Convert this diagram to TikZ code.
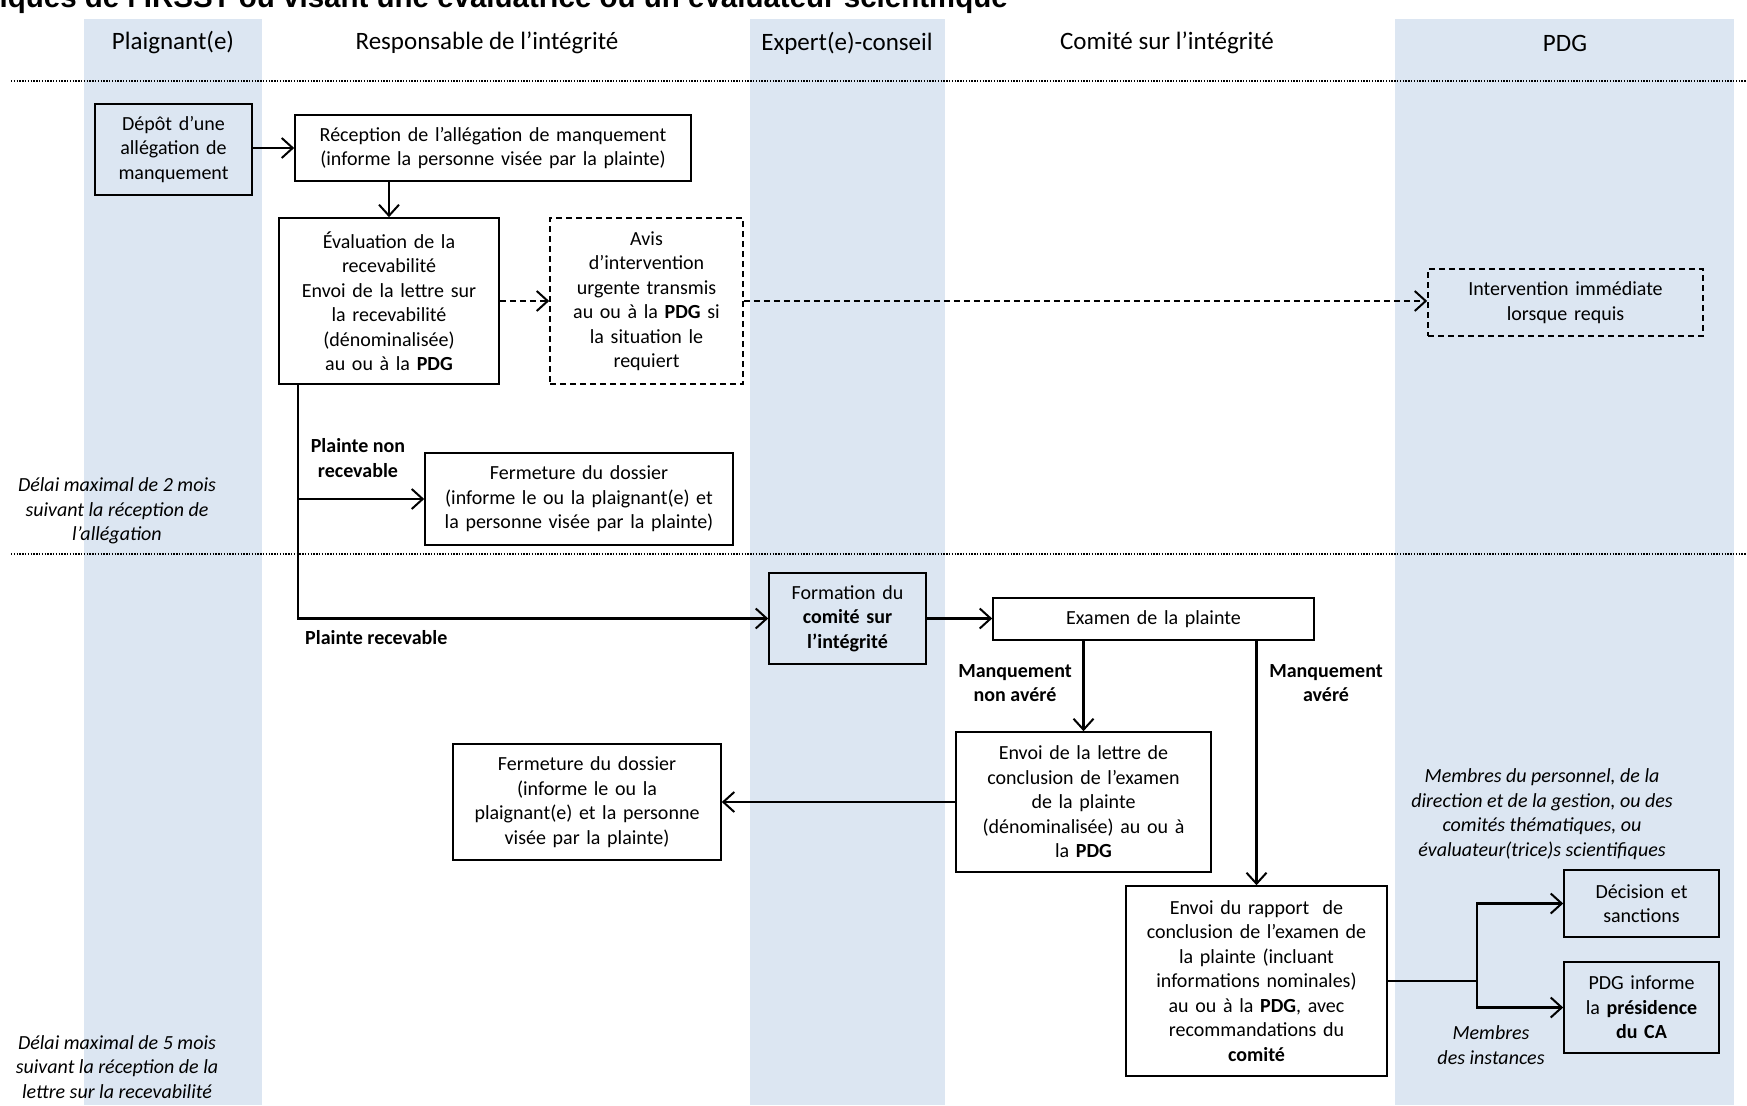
\documentclass[tikz,border=0pt]{standalone}
\usepackage{fontspec}
\setmainfont{Carlito}
\newfontfamily\titlefont{Liberation Sans}
\usetikzlibrary{arrows.meta,calc}
\definecolor{lanec}{HTML}{DCE6F2}
\newcommand\bodyfs{\fontsize{20}{24.5}\selectfont}
\newcommand\headfs{\fontsize{25}{30}\selectfont}
\begin{document}
\begin{tikzpicture}[x=1pt,y=-1pt,
  box/.style={draw, line width=1.6pt, align=center, font=\bodyfs, inner xsep=4pt, inner ysep=0pt},
  dbox/.style={box, dash pattern=on 6pt off 4pt},
  fbox/.style={box, fill=lanec},
  lbl/.style={align=center, font=\bodyfs\bfseries, inner sep=0pt},
  ilbl/.style={align=center, font=\bodyfs\itshape, inner sep=0pt},
  head/.style={font=\headfs, inner sep=0pt},
  conn/.style={line width=2.2pt},
  arr/.style={conn, -{Straight Barb[length=11pt,width=20pt,line width=2pt]}},
  darr/.style={arr, line width=1.8pt, dash pattern=on 6pt off 4pt},
  sep/.style={line width=2pt, dash pattern=on 1.4pt off 1.4pt},
]
\useasboundingbox (0,0) rectangle (1747,1105);
\clip (0,0) rectangle (1747,1105);
% lanes
\fill[lanec] (84,19) rectangle (262,1105);
\fill[lanec] (750,19) rectangle (945,1105);
\fill[lanec] (1395,19) rectangle (1734,1105);
% title (clipped at top, as in the reference)
\node[anchor=base east, inner sep=0pt, font=\titlefont\fontsize{29.5}{34}\selectfont\bfseries] (title) at (1008,8) {iques de l’IRSST ou visant une évaluatrice ou un évaluateur scientifique};
% headers
\node[head] (h1) at (173,43) {Plaignant(e)};
\node[head] (h2) at (487,43) {Responsable de l’intégrité};
\node[head] (h3) at (847,43) {Expert(e)-conseil};
\node[head] (h4) at (1167,43) {Comité sur l’intégrité};
\node[head] (h5) at (1565,43) {PDG};
% separators
\coordinate (s1a) at (11,81); \coordinate (s1b) at (1747,81);
\coordinate (s2a) at (11,554); \coordinate (s2b) at (1747,554);
\draw[sep] (s1a) -- (s1b);
\draw[sep] (s2a) -- (s2b);
% nodes
\node[fbox, minimum width=157pt, text width=149pt, minimum height=91pt] (dep) at (173.5,149.5) {Dépôt d’une\\allégation de\\manquement};
\node[box, minimum width=396pt, text width=388pt, minimum height=66pt] (rec) at (493,148) {Réception de l’allégation de manquement\\(informe la personne visée par la plainte)};
\node[box, minimum width=220pt, text width=212pt, minimum height=166pt] (eval) at (389,301) {Évaluation de la\\recevabilité\\Envoi de la lettre sur\\la recevabilité\\(dénominalisée)\\au ou à la \textbf{PDG}};
\node[dbox, minimum width=193pt, text width=185pt, minimum height=166pt] (avis) at (646.5,301) {Avis\\d’intervention\\urgente transmis\\au ou à la \textbf{PDG} si\\la situation le\\requiert};
\node[dbox, minimum width=275pt, text width=267pt, minimum height=67pt] (interv) at (1565.5,302.5) {Intervention immédiate\\lorsque requis};
\node[box, minimum width=308pt, text width=300pt, minimum height=92pt] (ferm1) at (579,499) {Fermeture du dossier\\(informe le ou la plaignant(e) et\\la personne visée par la plainte)};
\node[fbox, minimum width=157pt, text width=149pt, minimum height=91pt] (form) at (847.5,618.5) {Formation du\\\textbf{comité sur}\\\textbf{l’intégrité}};
\node[box, minimum width=321pt, text width=313pt, minimum height=42pt] (exam) at (1153.5,619) {Examen de la plainte};
\node[box, minimum width=255pt, text width=247pt, minimum height=140pt] (envl) at (1083.5,802) {Envoi de la lettre de\\conclusion de l’examen\\de la plainte\\(dénominalisée) au ou à\\la \textbf{PDG}};
\node[box, minimum width=268pt, text width=260pt, minimum height=116pt] (ferm2) at (587,802) {Fermeture du dossier\\(informe le ou la\\plaignant(e) et la personne\\visée par la plainte)};
\node[box, minimum width=261pt, text width=253pt, minimum height=190pt] (envr) at (1256.5,981) {Envoi du rapport\ \ de\\conclusion de l’examen de\\la plainte (incluant\\informations nominales)\\au ou à la \textbf{PDG}, avec\\recommandations du\\\textbf{comité}};
\node[box, minimum width=155pt, text width=147pt, minimum height=67pt] (dec) at (1641.5,903.5) {Décision et\\sanctions};
\node[box, minimum width=155pt, text width=147pt, minimum height=91pt] (pdgi) at (1641.5,1007.5) {PDG informe\\la \textbf{présidence}\\\textbf{du CA}};
% labels
\node[lbl] (l1) at (358,458) {Plainte non\\recevable};
\node[lbl, anchor=west] (l2) at (305,638) {Plainte recevable};
\node[lbl] (l3) at (1015,683) {Manquement\\non avéré};
\node[lbl] (l4) at (1326,683) {Manquement\\avéré};
\node[ilbl] (l5) at (1542,814) {Membres du personnel, de la\\direction et de la gestion, ou des\\comités thématiques, ou\\évaluateur(trice)s scientifiques};
\node[ilbl] (l6) at (1491,1045) {Membres\\des instances};
\node[ilbl] (d1) at (117,511) {Délai maximal de 2 mois\\suivant la réception de\\l’allégation};
\node[ilbl] (d2) at (117,1067) {Délai maximal de 5 mois\\suivant la réception de la\\lettre sur la recevabilité};
% connectors
\draw[arr] (dep.east |- rec.west) -- (rec.west);
\draw[arr] (eval.north |- rec.south) -- (eval.north);
\draw[darr] (eval.east) -- (avis.west);
\draw[darr] (avis.east) -- (avis.east -| interv.west);
\coordinate (bx) at ($(eval.south west)+(20,0)$);
\draw[arr] (bx) |- (form.west);
\draw[arr] (bx |- ferm1.west) -- (ferm1.west);
\draw[arr] (form.east) -- (form.east -| exam.west);
\draw[arr] (envl.north |- exam.south) -- (envl.north);
\draw[arr] (envr.north |- exam.south) -- (envr.north);
\draw[arr] (envl.west) -- (ferm2.east);
\coordinate (fk) at ($(envr.east)+(89,0)$);
\draw[conn] (envr.east) -- (fk);
\draw[arr] (fk) |- (dec.west);
\draw[arr] (fk) |- (pdgi.west);
\end{tikzpicture}
\end{document}
